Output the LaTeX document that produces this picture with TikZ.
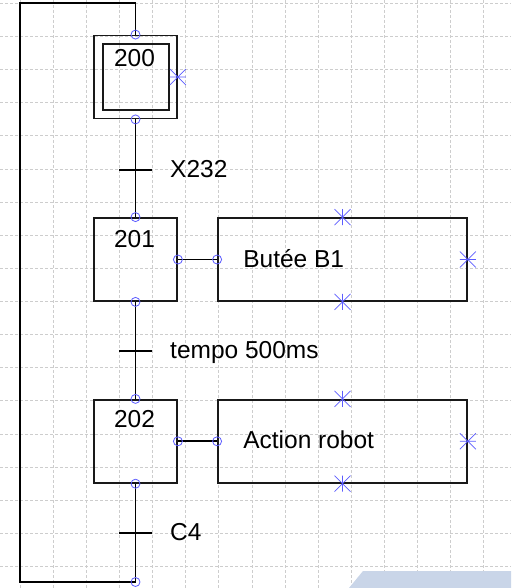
\documentclass[tikz,border=0pt]{standalone}
\usepackage{fontspec}
\setmainfont{Liberation Sans}
\usepackage{tikz}
\usetikzlibrary{calc}
\definecolor{pb}{HTML}{5C5CFF}
\definecolor{gr}{HTML}{CDCDCD}
\definecolor{sheet}{HTML}{C9D5E8}

\begin{document}
\begin{tikzpicture}[x=1pt,y=-1pt,
  stepbox/.style={draw=black!90,line width=1.8pt,minimum width=83pt,minimum height=83pt,inner sep=0pt},
  actbox/.style={draw=black!90,line width=1.8pt,minimum width=249pt,minimum height=83pt,inner sep=0pt},
  lbl/.style={font=\fontsize{24.5}{28}\selectfont,inner sep=0pt},
  port/.style={circle,draw=pb,line width=0.8pt,inner sep=0pt,minimum size=9pt},
  wire/.style={line width=1.7pt},
  gridline/.style={gr,dash pattern=on 3pt off 2pt,line width=0.8pt},
  xmk/.pic={\draw[pb,line width=0.7pt] (-8,-8)--(8,8) (-8,8)--(8,-8) (0,-8)--(0,8);}]
  \useasboundingbox (0,0) rectangle (511,588);
  % background grid
  \foreach \i in {0,...,14}{\draw[gridline] ({20+33.13*\i},0)--++(0,588);}
  \foreach \j in {0,...,17}{\draw[gridline] (0,{3.3+33.13*\j})--++(511,0);}
  \fill[sheet] (349,588)--(363,571)--(511,571)--(511,588)--cycle;
  % steps and actions
  \node[stepbox] (s200) at (135.5,77) {};
  \node[draw=black!90,line width=1.8pt,minimum size=66pt,inner sep=0pt] (s200i) at (136,77) {};
  \node[stepbox] (s201) at (135.5,259.5) {};
  \node[stepbox] (s202) at (135.5,441.3) {};
  \node[actbox] (a201) at (342.5,259.5) {};
  \node[actbox] (a202) at (342.5,441.3) {};
  \node[lbl,anchor=base] (n200) at ($(s200.north)+(-1,32)$) {200};
  \node[lbl,anchor=base] (n201) at ($(s201.north)+(-1,30)$) {201};
  \node[lbl,anchor=base] (n202) at ($(s202.north)+(-1,29)$) {202};
  \node[lbl,anchor=base west] (l201) at ($(a201.west)+(26,7.5)$) {Butée B1};
  \node[lbl,anchor=base west] (l202) at ($(a202.west)+(26,7)$) {Action robot};
  % links and loop
  \coordinate (ret) at (135.5,582);\coordinate (tl) at (20,3);
  \draw[wire] (s200.south)--(s201.north) (s201.south)--(s202.north);
  \draw[wire] (s202.south)--(ret)-|(tl)-|(s200.north);
  \draw[wire] (s201.east)--(a201.west) (s202.east)--(a202.west);
  % transitions
  \coordinate (t1) at (135.5,170);\coordinate (t2) at (135.5,351);\coordinate (t3) at (135.5,533);
  \foreach \t/\c in {t1/X232,t2/tempo 500ms,t3/C4}{
    \draw[wire] ($(\t)+(-16.5,0)$)--($(\t)+(16.5,0)$);
    \node[lbl,anchor=base west] (c\t) at ($(\t)+(34.5,7.5)$) {\c};}
  % connection points
  \foreach \p [count=\i] in {s200.north,s200.south,s201.north,s201.south,s201.east,a201.west,
     s202.north,s202.south,s202.east,a202.west,ret}{\node[port] (p\i) at (\p) {};}
  \foreach \p in {a201.north,a201.south,a202.north,a202.south}{\pic at (\p) {xmk};}
  \foreach \p in {s200.east,a201.east,a202.east}{\pic[rotate=90] at (\p) {xmk};}
\end{tikzpicture}
\end{document}
